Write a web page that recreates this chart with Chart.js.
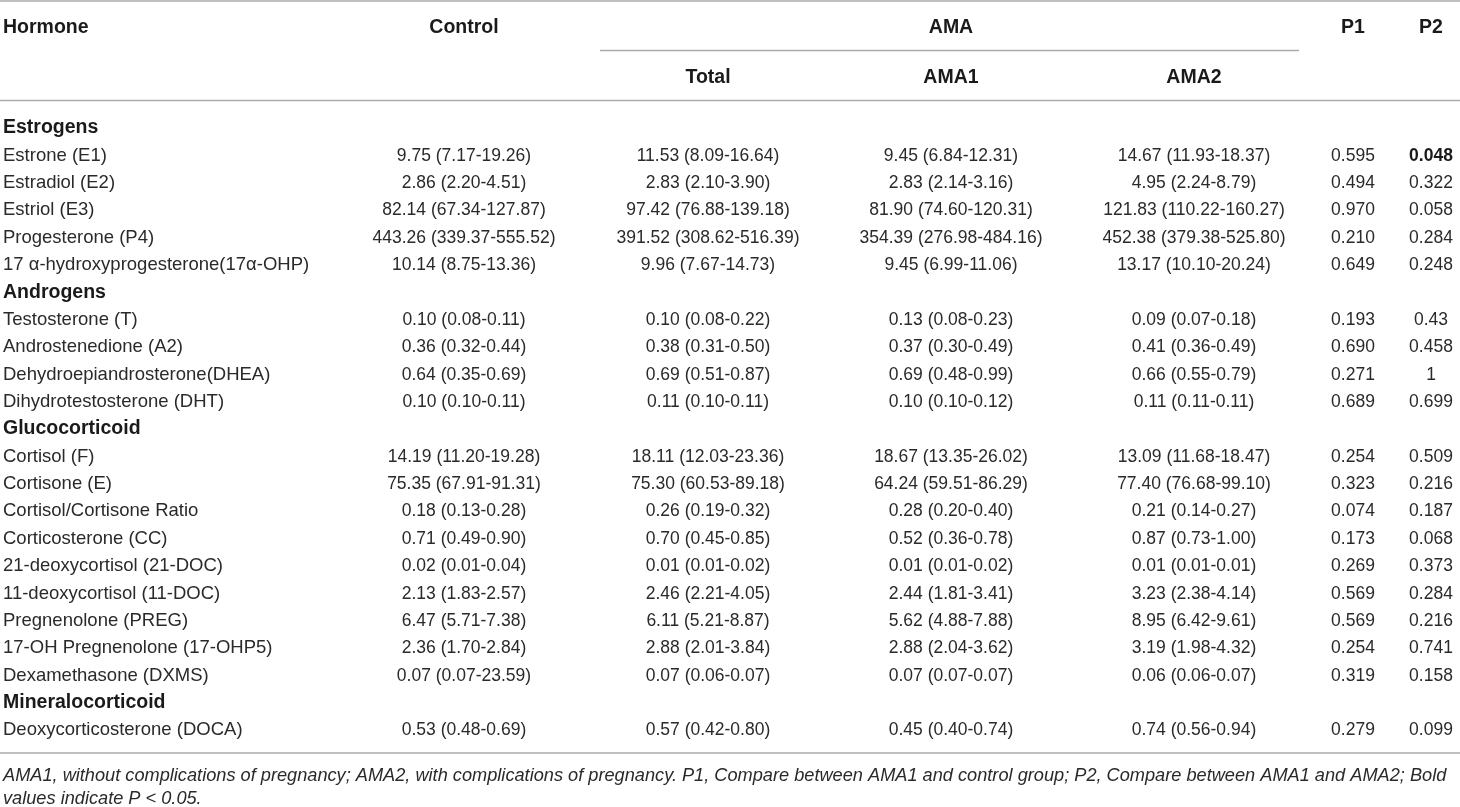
<!DOCTYPE html>
<html>
<head>
<meta charset="utf-8">
<script src="https://cdn.jsdelivr.net/npm/chart.js@4.4.1/dist/chart.umd.min.js"></script>
<style>
  html, body { margin: 0; padding: 0; background: #fff; }
  #wrap { width: 1460px; height: 807px; position: relative; }
</style>
</head>
<body>
<div id="wrap"><canvas id="myChart"></canvas></div>
<script>
// Table content
const rowLabels = [
  'Estrogens', 'Estrone (E1)', 'Estradiol (E2)', 'Estriol (E3)', 'Progesterone (P4)',
  '17 \u03b1-hydroxyprogesterone(17\u03b1-OHP)',
  'Androgens', 'Testosterone (T)', 'Androstenedione (A2)', 'Dehydroepiandrosterone(DHEA)', 'Dihydrotestosterone (DHT)',
  'Glucocorticoid', 'Cortisol (F)', 'Cortisone (E)', 'Cortisol/Cortisone Ratio', 'Corticosterone (CC)',
  '21-deoxycortisol (21-DOC)', '11-deoxycortisol (11-DOC)', 'Pregnenolone (PREG)', '17-OH Pregnenolone (17-OHP5)',
  'Dexamethasone (DXMS)',
  'Mineralocorticoid', 'Deoxycorticosterone (DOCA)'
];
const groupRows = [0, 6, 11, 21];

const controlVals = ['', '9.75 (7.17-19.26)', '2.86 (2.20-4.51)', '82.14 (67.34-127.87)', '443.26 (339.37-555.52)', '10.14 (8.75-13.36)',
  '', '0.10 (0.08-0.11)', '0.36 (0.32-0.44)', '0.64 (0.35-0.69)', '0.10 (0.10-0.11)',
  '', '14.19 (11.20-19.28)', '75.35 (67.91-91.31)', '0.18 (0.13-0.28)', '0.71 (0.49-0.90)', '0.02 (0.01-0.04)', '2.13 (1.83-2.57)',
  '6.47 (5.71-7.38)', '2.36 (1.70-2.84)', '0.07 (0.07-23.59)',
  '', '0.53 (0.48-0.69)'];
const totalVals = ['', '11.53 (8.09-16.64)', '2.83 (2.10-3.90)', '97.42 (76.88-139.18)', '391.52 (308.62-516.39)', '9.96 (7.67-14.73)',
  '', '0.10 (0.08-0.22)', '0.38 (0.31-0.50)', '0.69 (0.51-0.87)', '0.11 (0.10-0.11)',
  '', '18.11 (12.03-23.36)', '75.30 (60.53-89.18)', '0.26 (0.19-0.32)', '0.70 (0.45-0.85)', '0.01 (0.01-0.02)', '2.46 (2.21-4.05)',
  '6.11 (5.21-8.87)', '2.88 (2.01-3.84)', '0.07 (0.06-0.07)',
  '', '0.57 (0.42-0.80)'];
const ama1Vals = ['', '9.45 (6.84-12.31)', '2.83 (2.14-3.16)', '81.90 (74.60-120.31)', '354.39 (276.98-484.16)', '9.45 (6.99-11.06)',
  '', '0.13 (0.08-0.23)', '0.37 (0.30-0.49)', '0.69 (0.48-0.99)', '0.10 (0.10-0.12)',
  '', '18.67 (13.35-26.02)', '64.24 (59.51-86.29)', '0.28 (0.20-0.40)', '0.52 (0.36-0.78)', '0.01 (0.01-0.02)', '2.44 (1.81-3.41)',
  '5.62 (4.88-7.88)', '2.88 (2.04-3.62)', '0.07 (0.07-0.07)',
  '', '0.45 (0.40-0.74)'];
const ama2Vals = ['', '14.67 (11.93-18.37)', '4.95 (2.24-8.79)', '121.83 (110.22-160.27)', '452.38 (379.38-525.80)', '13.17 (10.10-20.24)',
  '', '0.09 (0.07-0.18)', '0.41 (0.36-0.49)', '0.66 (0.55-0.79)', '0.11 (0.11-0.11)',
  '', '13.09 (11.68-18.47)', '77.40 (76.68-99.10)', '0.21 (0.14-0.27)', '0.87 (0.73-1.00)', '0.01 (0.01-0.01)', '3.23 (2.38-4.14)',
  '8.95 (6.42-9.61)', '3.19 (1.98-4.32)', '0.06 (0.06-0.07)',
  '', '0.74 (0.56-0.94)'];
const p1Vals = ['', '0.595', '0.494', '0.970', '0.210', '0.649',
  '', '0.193', '0.690', '0.271', '0.689',
  '', '0.254', '0.323', '0.074', '0.173', '0.269', '0.569', '0.569', '0.254', '0.319',
  '', '0.279'];
const p2Vals = ['', '0.048', '0.322', '0.058', '0.284', '0.248',
  '', '0.43', '0.458', '1', '0.699',
  '', '0.509', '0.216', '0.187', '0.068', '0.373', '0.284', '0.216', '0.741', '0.158',
  '', '0.099'];
// bold cells (P < 0.05)
const boldP2 = [1];

const footnote = [
  'AMA1, without complications of pregnancy; AMA2, with complications of pregnancy. P1, Compare between AMA1 and control group; P2, Compare between AMA1 and AMA2; Bold',
  'values indicate P < 0.05.'
];

// Layout (pixel units of the x/y scales)
const FONT = '"Liberation Sans", Arial, Helvetica, sans-serif';
const rowBase = 133.4, rowStep = 27.36;
const rowY = i => rowBase + i * rowStep;
const colX = { label: 3, control: 464, total: 708, ama1: 951, ama2: 1194, p1: 1353, p2: 1431 };

const headerCells = [
  { text: 'Hormone', x: 3, y: 33, align: 'left' },
  { text: 'Control', x: colX.control, y: 33 },
  { text: 'AMA', x: colX.ama1, y: 33 },
  { text: 'P1', x: colX.p1, y: 33 },
  { text: 'P2', x: colX.p2, y: 33 },
  { text: 'Total', x: colX.total, y: 83 },
  { text: 'AMA1', x: colX.ama1, y: 83 },
  { text: 'AMA2', x: colX.ama2, y: 83 }
];
const rules = [
  { x0: 0, x1: 1460, y: 1 },
  { x0: 600, x1: 1299, y: 50.5 },
  { x0: 0, x1: 1460, y: 100.5 },
  { x0: 0, x1: 1460, y: 753 }
];

function colDataset(key, texts, bold) {
  return {
    label: key,
    data: texts.map((t, i) => ({ x: colX[key], y: rowY(i) })),
    texts: texts,
    bold: bold || [],
    align: key === 'label' ? 'left' : 'center',
    pointRadius: 0,
    showLine: false
  };
}

const tablePlugin = {
  id: 'tableText',
  afterDatasetsDraw(chart) {
    const ctx = chart.ctx;
    const x = chart.scales.x, y = chart.scales.y;
    ctx.save();

    // horizontal rules
    ctx.strokeStyle = '#ababab';
    ctx.lineWidth = 1.6;
    rules.forEach(r => {
      ctx.beginPath();
      ctx.moveTo(x.getPixelForValue(r.x0), y.getPixelForValue(r.y));
      ctx.lineTo(x.getPixelForValue(r.x1), y.getPixelForValue(r.y));
      ctx.stroke();
    });

    ctx.textBaseline = 'alphabetic';

    // header
    ctx.fillStyle = '#1a1a1a';
    ctx.font = 'bold 19.5px ' + FONT;
    headerCells.forEach(h => {
      ctx.textAlign = h.align || 'center';
      ctx.fillText(h.text, x.getPixelForValue(h.x), y.getPixelForValue(h.y));
    });

    // body cells
    chart.data.datasets.forEach((ds, di) => {
      const meta = chart.getDatasetMeta(di);
      ctx.textAlign = ds.align;
      meta.data.forEach((pt, i) => {
        const t = ds.texts[i];
        if (!t) return;
        const isGroup = ds.align === 'left' && groupRows.includes(i);
        if (isGroup) {
          ctx.font = 'bold 19.5px ' + FONT;
          ctx.fillStyle = '#1a1a1a';
        } else if (ds.bold.includes(i)) {
          ctx.font = 'bold 17.5px ' + FONT;
          ctx.fillStyle = '#1a1a1a';
        } else {
          ctx.font = (ds.align === 'left' ? '18.5px ' : '17.5px ') + FONT;
          ctx.fillStyle = '#2a2a2a';
        }
        ctx.fillText(t, pt.x, pt.y);
      });
    });

    // footnote
    ctx.font = 'italic 18.2px ' + FONT;
    ctx.fillStyle = '#2a2a2a';
    ctx.textAlign = 'left';
    ctx.fillText(footnote[0], x.getPixelForValue(3), y.getPixelForValue(781));
    ctx.fillText(footnote[1], x.getPixelForValue(3), y.getPixelForValue(803.5));

    ctx.restore();
  }
};

const ctx = document.getElementById('myChart').getContext('2d');
new Chart(ctx, {
  type: 'scatter',
  data: {
    datasets: [
      colDataset('label', rowLabels),
      colDataset('control', controlVals),
      colDataset('total', totalVals),
      colDataset('ama1', ama1Vals),
      colDataset('ama2', ama2Vals),
      colDataset('p1', p1Vals),
      colDataset('p2', p2Vals, boldP2)
    ]
  },
  options: {
    responsive: true,
    maintainAspectRatio: false,
    animation: false,
    events: [],
    layout: { padding: 0 },
    plugins: {
      legend: { display: false },
      tooltip: { enabled: false }
    },
    scales: {
      x: { type: 'linear', min: 0, max: 1460, display: false },
      y: { type: 'linear', min: 0, max: 807, reverse: true, display: false }
    }
  },
  plugins: [tablePlugin]
});
</script>
</body>
</html>
